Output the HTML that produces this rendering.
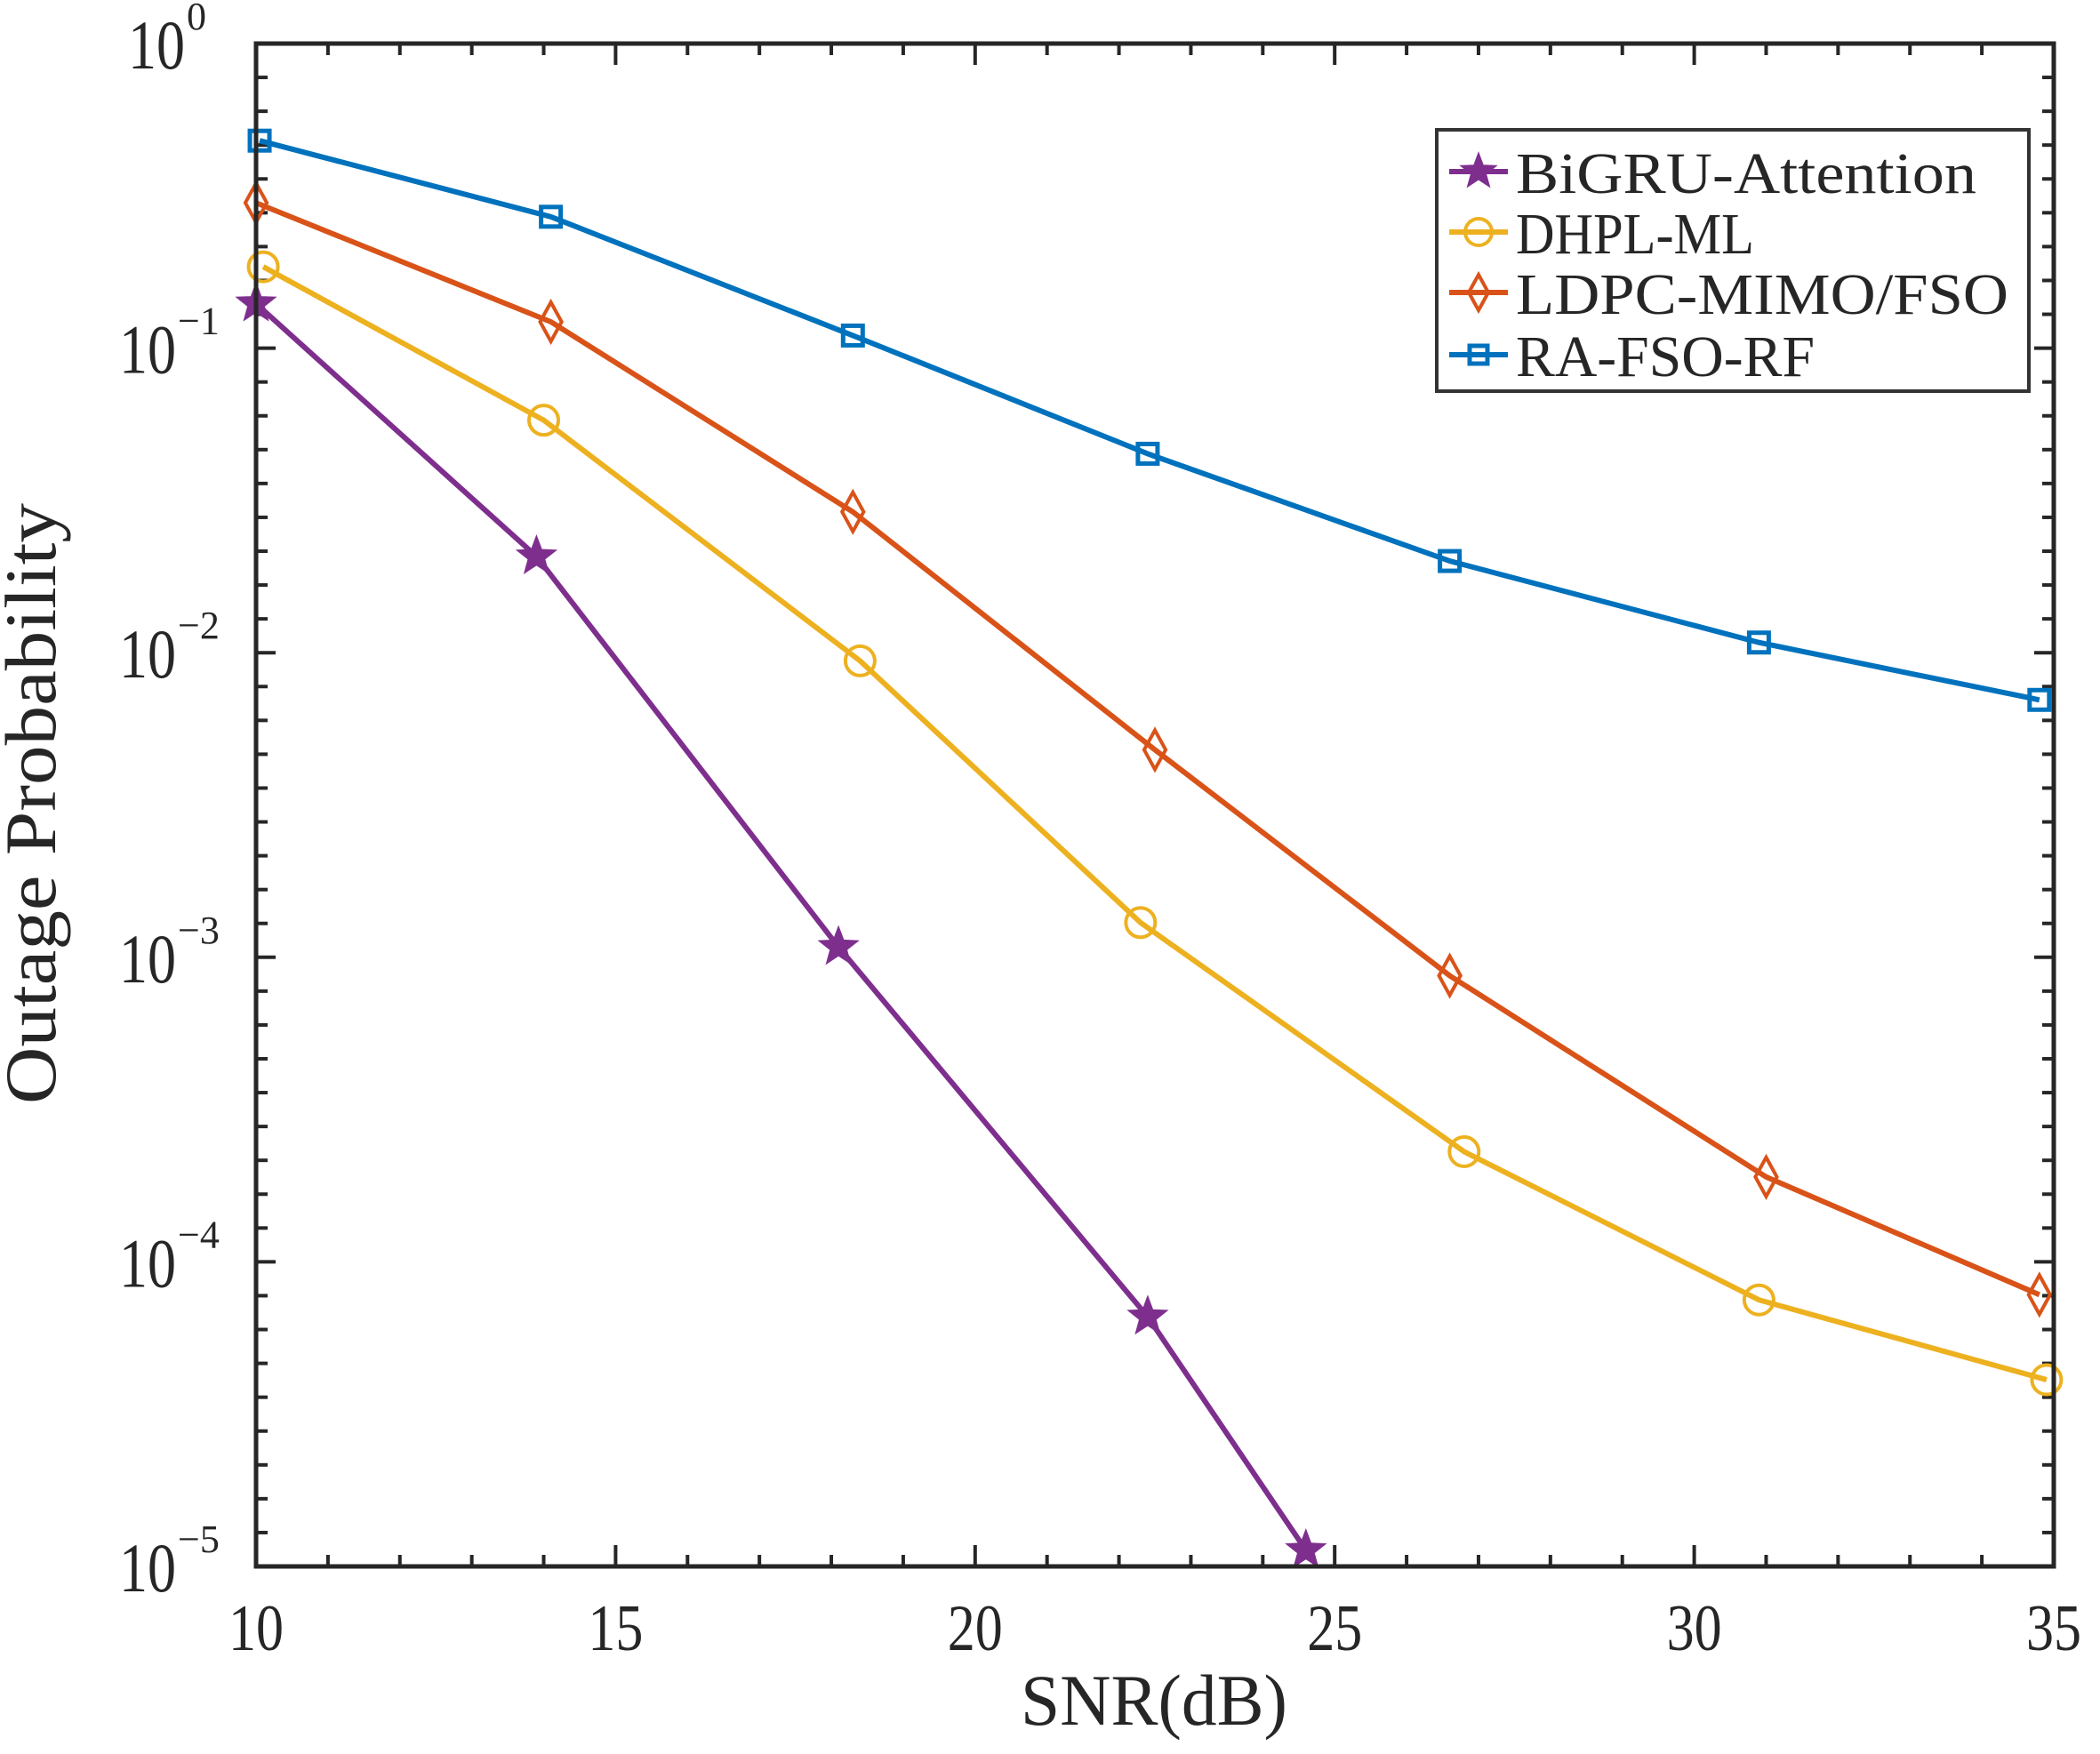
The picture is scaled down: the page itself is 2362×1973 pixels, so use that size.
<!DOCTYPE html>
<html><head><meta charset="utf-8"><style>
html,body{margin:0;padding:0;background:#fff;}
svg{display:block;}
text{font-family:"Liberation Serif",serif;fill:#262626;}
</style></head><body>
<svg id="chart" width="2362" height="1973" viewBox="0 0 2362 1973">
<rect x="0" y="0" width="2362" height="1973" fill="#fff"/>
<g id="ticks"></g>
<g id="series"></g>
<rect x="288" y="49" width="2022" height="1713" fill="none" stroke="#262626" stroke-width="5"/>
<g id="labels"></g>
<text x="1298" y="1940" font-size="82" text-anchor="middle" textLength="300" lengthAdjust="spacingAndGlyphs">SNR(dB)</text>
<text transform="translate(62,904) rotate(-90)" font-size="82" text-anchor="middle" textLength="676" lengthAdjust="spacingAndGlyphs">Outage Probability</text>
<g id="legend"></g>
</svg>
<script>
const xTicks = [10, 15, 20, 25, 30, 35];
const yExps = [0, -1, -2, -3, -4, -5];
const seriesNames = ["BiGRU-Attention", "DHPL-ML", "LDPC-MIMO/FSO", "RA-FSO-RF"];
const bigruX = [10, 13.9, 18.1, 22.4, 24.6];
const bigruY = [0.14, 0.0207, 0.00108, 0.000066, 0.0000113];
const dhplX = [10.1, 14.0, 18.4, 22.3, 26.8, 30.9, 34.9];
const dhplY = [0.185, 0.058, 0.0094, 0.0013, 0.00023, 0.000075, 0.000041];
const ldpcX = [10, 14.1, 18.3, 22.5, 26.6, 31.0, 34.8];
const ldpcY = [0.3, 0.122, 0.029, 0.0048, 0.00087, 0.00019, 0.000078];
const raX = [10.05, 14.1, 18.3, 22.4, 26.6, 30.9, 34.8];
const raY = [0.48, 0.27, 0.11, 0.045, 0.02, 0.0108, 0.007];

const NS = "http://www.w3.org/2000/svg";
const X0 = 288, X1 = 2310, Y0 = 49, Y1 = 1762;
function xs(v){ return X0 + (v - 10) / 25 * (X1 - X0); }
function ys(v){ return Y0 + (-Math.log10(v)) / 5 * (Y1 - Y0); }
function mk(tag, attrs, parent){ const e = document.createElementNS(NS, tag); for (const k in attrs) e.setAttribute(k, attrs[k]); parent.appendChild(e); return e; }

const tg = document.getElementById('ticks');
const lg = document.getElementById('labels');
for (let v = 10; v <= 35; v++) {
  const major = xTicks.includes(v);
  const L = major ? 24 : 13;
  const t1 = mk('line', {x1: xs(v), x2: xs(v), y1: Y1, y2: Y1 - L, stroke: '#262626', 'stroke-width': 4}, tg);
  
  
  const t2 = mk('line', {x1: xs(v), x2: xs(v), y1: Y0, y2: Y0 + L, stroke: '#262626', 'stroke-width': 4}, tg);
  
  
}
xTicks.forEach(v => {
  const t = mk('text', {x: xs(v), y: 1856, 'font-size': 74, 'text-anchor': 'middle', textLength: 62, lengthAdjust: 'spacingAndGlyphs'}, lg);
  t.textContent = v;
  
  
});
const dec = (Y1 - Y0) / 5;
yExps.forEach(e => {
  const y = ys(Math.pow(10, e));
  const a = mk('line', {x1: X0, x2: X0 + 22, y1: y, y2: y, stroke: '#262626', 'stroke-width': 4}, tg);
  
  
  const b = mk('line', {x1: X1, x2: X1 - 22, y1: y, y2: y, stroke: '#262626', 'stroke-width': 4}, tg);
  
  
  if (e > -5) {
    for (let k = 1; k < 9; k++) {
      const yy = y + dec * k / 9;
      const c = mk('line', {x1: X0, x2: X0 + 13, y1: yy, y2: yy, stroke: '#262626', 'stroke-width': 4}, tg);
      
      
      const d = mk('line', {x1: X1, x2: X1 - 13, y1: yy, y2: yy, stroke: '#262626', 'stroke-width': 4}, tg);
      
      
    }
  }
  const t = mk('text', {x: e === 0 ? 208 : 198, y: y + 28, 'font-size': 78, 'text-anchor': 'end', textLength: 64, lengthAdjust: 'spacingAndGlyphs'}, lg);
  t.textContent = '10';
  
  
  const s = mk('text', {x: e === 0 ? 210 : 200, y: y - 16, 'font-size': 44, 'text-anchor': 'start'}, lg);
  s.textContent = e === 0 ? '0' : '\u2212' + (-e);
  
  
});

const colors = ['#7E2F8E', '#EDB120', '#D95319', '#0072BD'];
const markers = ['star', 'circle', 'diamond', 'square'];
const sg = document.getElementById('series');
function marker(type, x, y, c, parent, s){
  let e;
  if (type === 'star') {
    let p = [];
    for (let i = 0; i < 10; i++) { const r = i % 2 ? s * 0.42 : s; const a = -Math.PI / 2 + i * Math.PI / 5; p.push((x + r * Math.cos(a)).toFixed(1) + ',' + (y + r * Math.sin(a)).toFixed(1)); }
    e = mk('polygon', {points: p.join(' '), fill: c, stroke: c, 'stroke-width': 2}, parent);
  } else if (type === 'circle') {
    e = mk('circle', {cx: x, cy: y, r: s * 0.75, fill: 'none', stroke: c, 'stroke-width': 4}, parent);
  } else if (type === 'diamond') {
    e = mk('polygon', {points: `${x},${y - s} ${x + s * 0.55},${y} ${x},${y + s} ${x - s * 0.55},${y}`, fill: 'none', stroke: c, 'stroke-width': 4}, parent);
  } else {
    e = mk('rect', {x: x - s * 0.5, y: y - s * 0.5, width: s * 1.0, height: s * 1.0, fill: 'none', stroke: c, 'stroke-width': 5}, parent);
  }
  return e;
}
const allX = [bigruX, dhplX, ldpcX, raX];
const allY = [bigruY, dhplY, ldpcY, raY];
allX.forEach((X, i) => {
  const Y = allY[i];
  const g = mk('g', {}, sg);
  
  
  const pl = mk('polyline', {points: X.map((x, j) => xs(x) + ',' + ys(Y[j])).join(' '), fill: 'none', stroke: colors[i], 'stroke-width': 6}, g);
  
  
  X.forEach((x, j) => {
    const m = marker(markers[i], xs(x), ys(Y[j]), colors[i], g, 22);
    
    
  });
});

const leg = document.getElementById('legend');
const box = mk('rect', {x: 1616, y: 146, width: 666, height: 294, fill: '#fff', stroke: '#333', 'stroke-width': 4}, leg);


const legY = [193, 261, 329, 399];
const legLen = [518, 268, 554, 336];
seriesNames.forEach((n, i) => {
  const g = mk('g', {}, leg);
  
  
  mk('line', {x1: 1630, x2: 1696, y1: legY[i], y2: legY[i], stroke: colors[i], 'stroke-width': 6}, g);
  marker(markers[i], 1663, legY[i], colors[i], g, 20);
  const t = mk('text', {x: 1705, y: legY[i] + 24, 'font-size': 66, textLength: legLen[i], lengthAdjust: 'spacingAndGlyphs'}, g);
  t.textContent = n;
  
  
});
</script>
</body></html>
